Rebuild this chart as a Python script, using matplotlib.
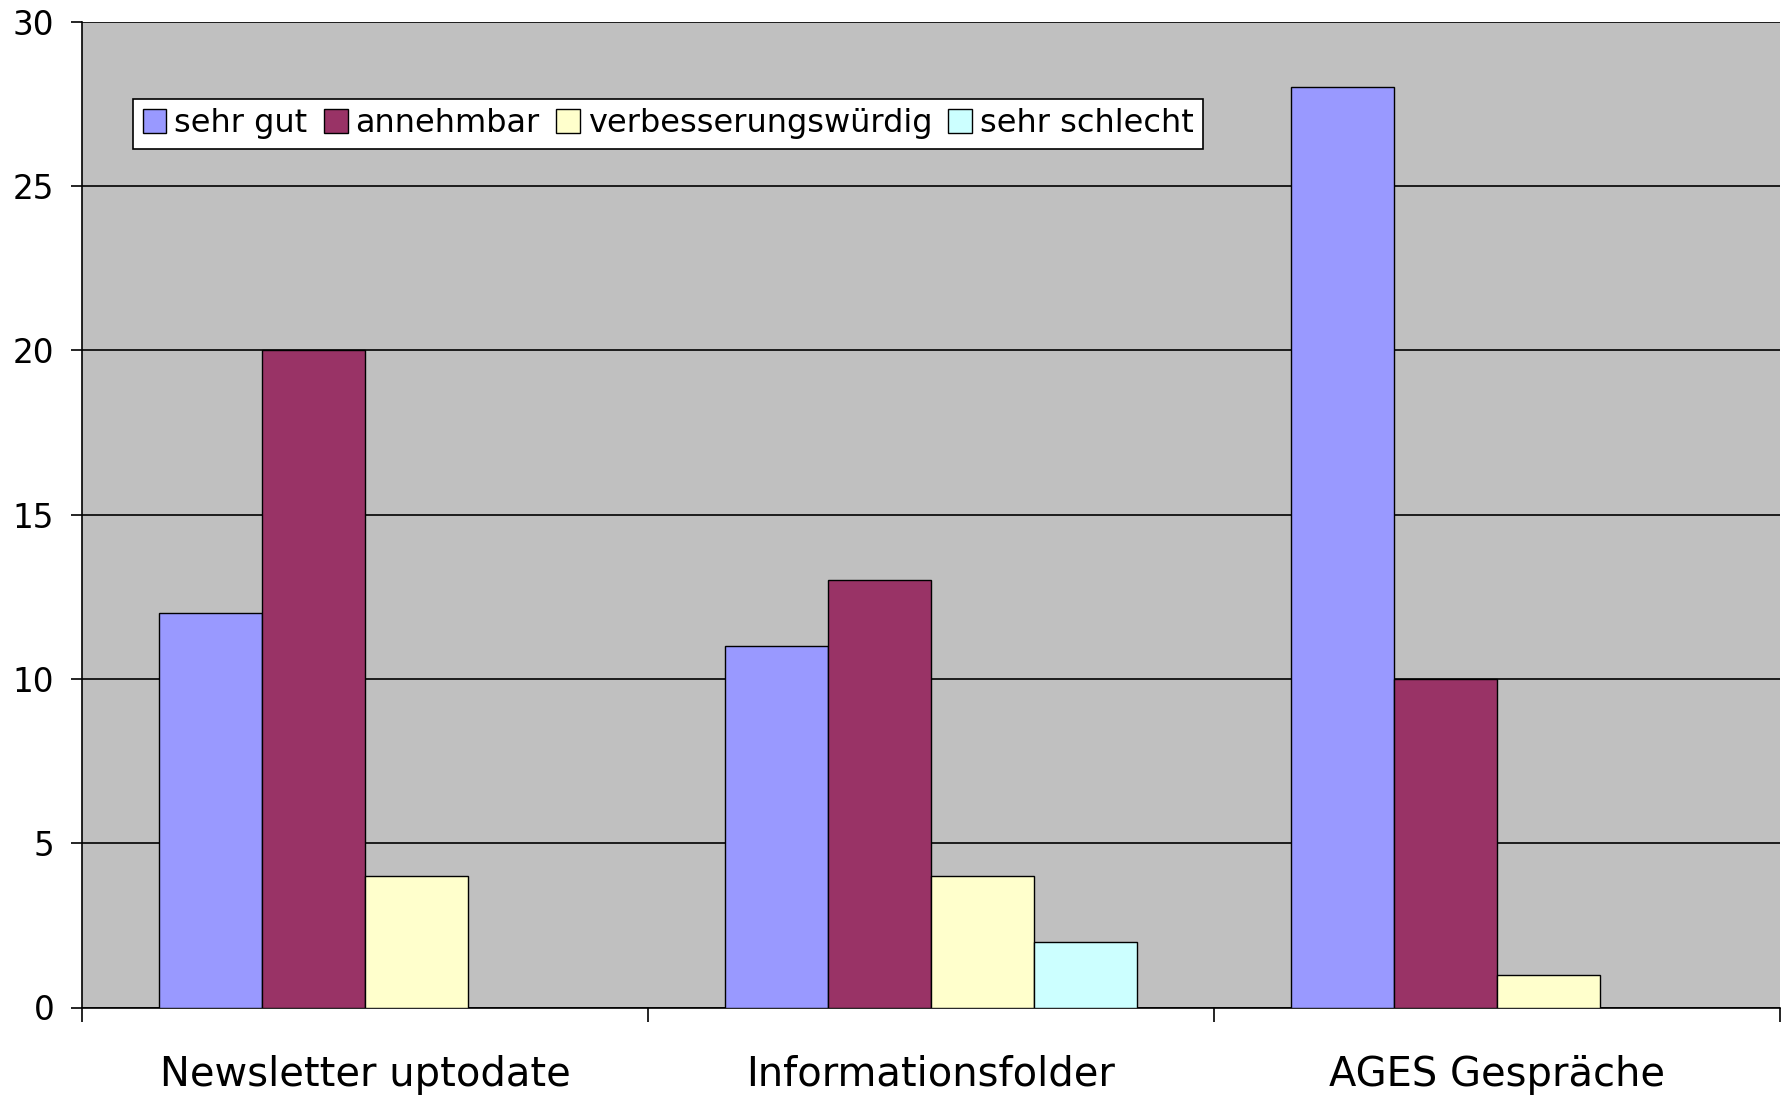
import numpy as np
import matplotlib.pyplot as plt

categories = ["Newsletter uptodate", "Informationsfolder", "AGES Gespräche"]
series_names = ["sehr gut", "annehmbar", "verbesserungswürdig", "sehr schlecht"]
sehr_gut = [12, 11, 28]
annehmbar = [20, 13, 10]
verbesserungswuerdig = [4, 4, 1]
sehr_schlecht = [0, 2, 0]
y_ticks = [0, 5, 10, 15, 20, 25, 30]

colours = ["#9999FF", "#993366", "#FFFFCC", "#CCFFFF"]

plt.rcParams['font.family'] = ['DejaVu Sans']

fig = plt.figure(figsize=(17.87, 10.98), dpi=100)
ax = fig.add_axes([82 / 1787, 1 - 1007.5 / 1098, (1780 - 82) / 1787, (1007.5 - 21.7) / 1098])
ax.set_facecolor("#C0C0C0")

x = np.arange(len(categories))
width = 1 / 5.5
all_series = [sehr_gut, annehmbar, verbesserungswuerdig, sehr_schlecht]
for i, (name, values) in enumerate(zip(series_names, all_series)):
    ax.bar(x + (i - 1.5) * width, values, width, color=colours[i],
           edgecolor="black", linewidth=1.0, label=name, zorder=3)

ax.set_xlim(-0.5, 2.5)
ax.set_ylim(0, 30)

# horizontal gridlines
ax.set_yticks(y_ticks)
ax.yaxis.grid(True, color="black", linewidth=1.2, zorder=1)
ax.set_axisbelow(True)
ax.tick_params(axis="y", direction="out", length=8, width=1.2, pad=12,
               labelsize=23.5)

# category labels at the centres, ticks at the boundaries
ax.set_xticks(x)
ax.set_xticklabels(categories, fontsize=28.8)
ax.set_xticks(np.arange(-0.5, 3.0, 1.0), minor=True)
ax.tick_params(axis="x", which="major", length=0, pad=34)
ax.tick_params(axis="x", which="minor", direction="out", length=10, width=1.2)

for side in ["top", "right"]:
    ax.spines[side].set_visible(False)
for side in ["left", "bottom"]:
    ax.spines[side].set_linewidth(1.2)

leg = ax.legend(loc="upper left", bbox_to_anchor=(0.03, 0.922), ncol=4,
                fontsize=23, frameon=True, fancybox=False, framealpha=1,
                edgecolor="black", handlelength=0.75, handleheight=0.75,
                handletextpad=0.25, columnspacing=0.5, borderpad=0.3,
                borderaxespad=0)
leg.get_frame().set_linewidth(1.2)

plt.savefig("out.png", dpi=100)
